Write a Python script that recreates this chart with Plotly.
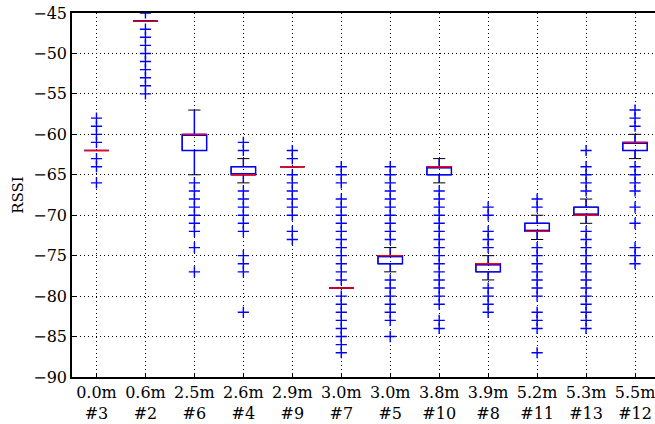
import plotly.graph_objects as go

# ---- data ----
distances = ["0.0m", "0.6m", "2.5m", "2.6m", "2.9m", "3.0m", "3.0m", "3.8m", "3.9m", "5.2m", "5.3m", "5.5m"]
nodes = ["#3", "#2", "#6", "#4", "#9", "#7", "#5", "#10", "#8", "#11", "#13", "#12"]

q1 = [-62, -46, -62, -65, -64, -79, -76, -65, -77, -72, -70, -62]
median = [-62, -46, -60, -65, -64, -79, -75, -64, -76, -72, -70, -61]
q3 = [-62, -46, -60, -64, -64, -79, -75, -64, -76, -71, -69, -61]
lower_whisker = [-62, -46, -65, -66, -64, -79, -77, -66, -78, -73, -71, -63]
upper_whisker = [-62, -46, -57, -63, -64, -79, -74, -63, -75, -70, -68, -60]

fliers = [
    [-58, -59, -60, -61, -63, -64, -66],
    [-45, -47, -48, -49, -50, -51, -52, -53, -54, -55],
    [-66, -67, -68, -69, -70, -71, -72, -74, -77],
    [-61, -62, -67, -68, -69, -70, -71, -72, -75, -76, -77, -82],
    [-62, -63, -65, -66, -67, -68, -69, -70, -72, -73],
    [-64, -65, -66, -68, -69, -70, -71, -72, -73, -74, -75, -76, -77, -78,
     -80, -81, -82, -83, -84, -85, -86, -87],
    [-64, -65, -66, -67, -68, -69, -70, -71, -72, -73, -78, -79, -80, -81, -82, -83, -85],
    [-67, -68, -69, -70, -71, -72, -73, -74, -75, -76, -77, -78, -79, -80, -81, -83, -84],
    [-69, -70, -72, -73, -74, -79, -80, -81, -82],
    [-68, -69, -74, -75, -76, -77, -78, -79, -80, -82, -83, -84, -87],
    [-62, -64, -65, -66, -67, -72, -73, -74, -75, -76, -77, -78, -79, -80, -81, -82, -83, -84],
    [-57, -58, -59, -64, -65, -66, -67, -69, -71, -74, -75, -76],
]

y_ticks = [-45, -50, -55, -60, -65, -70, -75, -80, -85, -90]
y_tick_text = ["\u221245", "\u221250", "\u221255", "\u221260", "\u221265",
               "\u221270", "\u221275", "\u221280", "\u221285", "\u221290"]

# ---- figure ----
pos = list(range(1, len(nodes) + 1))
FONT = "DejaVu Serif"

fig = go.Figure()

# black whiskers + caps
fig.add_trace(go.Box(
    x=pos, q1=q1, median=median, q3=q3,
    lowerfence=lower_whisker, upperfence=upper_whisker,
    width=0.5, whiskerwidth=0.5, boxpoints=False,
    line=dict(color="black", width=1), fillcolor="rgba(0,0,0,0)",
    hoverinfo="skip", showlegend=False,
))
# blue box + whisker stems
fig.add_trace(go.Box(
    x=pos, q1=q1, median=median, q3=q3,
    lowerfence=lower_whisker, upperfence=upper_whisker,
    width=0.5, whiskerwidth=0, boxpoints=False,
    line=dict(color="#0000ff", width=1.4), fillcolor="rgba(0,0,0,0)",
    hoverinfo="skip", showlegend=False,
))
# red medians
fig.add_trace(go.Box(
    x=pos, q1=median, median=median, q3=median,
    lowerfence=median, upperfence=median,
    width=0.5, whiskerwidth=0, boxpoints=False,
    line=dict(color="#ff0000", width=1.4), fillcolor="rgba(0,0,0,0)",
    hoverinfo="skip", showlegend=False,
))

# fliers
fx, fy = [], []
for p, fl in zip(pos, fliers):
    fx += [p] * len(fl)
    fy += fl
fig.add_trace(go.Scatter(
    x=fx, y=fy, mode="markers",
    marker=dict(symbol="cross-thin", size=8, line=dict(color="#0000ff", width=1.4)),
    showlegend=False, cliponaxis=True,
))

fig.update_layout(
    width=655, height=424,
    margin=dict(l=72, r=0, t=13, b=47),
    plot_bgcolor="white", paper_bgcolor="white",
    boxmode="overlay",
    font=dict(family=FONT, size=16, color="black"),
    showlegend=False,
)
fig.update_xaxes(
    range=[0.5, 12.408],
    tickmode="array", tickvals=pos,
    ticktext=[f"{d}<br>{n}" for d, n in zip(distances, nodes)],
    ticklabeloverflow="allow",
    showline=True, linecolor="black", linewidth=1.5, mirror=True,
    ticks="inside", ticklen=4, tickcolor="black",
    showgrid=True, gridcolor="black", gridwidth=1, griddash="1px,3px",
    zeroline=False, tickfont=dict(size=16),
)
fig.update_yaxes(
    range=[-90, -45],
    tickmode="array", tickvals=y_ticks, ticktext=y_tick_text,
    showline=True, linecolor="black", linewidth=1.5, mirror=False,
    ticks="inside", ticklen=4, tickcolor="black",
    showgrid=True, gridcolor="black", gridwidth=1, griddash="1px,3px",
    zeroline=False, tickfont=dict(size=16),
    title=dict(text="RSSI", font=dict(size=15), standoff=6),
)

fig.write_html("out.html")
